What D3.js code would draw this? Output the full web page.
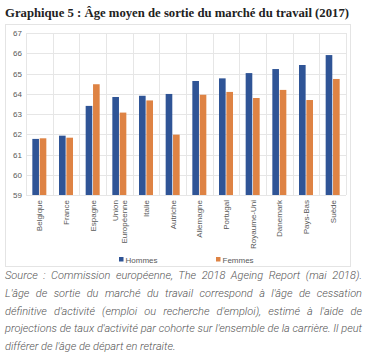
<!DOCTYPE html>
<html>
<head>
<meta charset="utf-8">
<script src="https://cdn.jsdelivr.net/npm/d3@7"></script>
<style>
  body { margin: 0; background: #fff; }
  #wrap { position: relative; width: 366px; height: 353px; overflow: hidden; }
  #source {
    position: absolute; left: 5px; top: 267px; width: 357px;
    font-family: Roboto, "Liberation Sans", sans-serif; font-style: italic; font-weight: 300;
    font-size: 11px; line-height: 17.8px; color: #555; text-align: justify;
  }
</style>
</head>
<body>
<div id="wrap">
  <div id="chart"></div>
  <div id="source">Source : Commission européenne, The 2018 Ageing Report (mai 2018). L'âge de sortie du marché du travail correspond à l'âge de cessation définitive d'activité (emploi ou recherche d'emploi), estimé à l'aide de projections de taux d'activité par cohorte sur l'ensemble de la carrière. Il peut différer de l'âge de départ en retraite.</div>
</div>
<script>
const countries = ["Belgique", "France", "Espagne", "Union Européenne", "Italie", "Autriche",
  "Allemagne", "Portugal", "Royaume-Uni", "Danemark", "Pays-Bas", "Suède"];
const hommes = [61.77, 61.93, 63.4, 63.84, 63.9, 63.99, 64.63, 64.76, 65.02, 65.22, 65.42, 65.91];
const femmes = [61.8, 61.83, 64.47, 63.07, 63.67, 61.98, 63.95, 64.09, 63.79, 64.19, 63.69, 64.73];
const seriesNames = ["Hommes", "Femmes"];
const yTicks = [59, 60, 61, 62, 63, 64, 65, 66, 67];

const colors = { Hommes: "#2f5496", Femmes: "#de8344" };
const W = 366, H = 353;
const plot = { left: 26, right: 346, top: 33, bottom: 195 };

const svg = d3.select("#chart").append("svg")
  .attr("width", W).attr("height", H)
  .style("position", "absolute").style("left", 0).style("top", 0);

svg.append("text")
  .attr("x", 5).attr("y", 17)
  .attr("textLength", 344).attr("lengthAdjust", "spacingAndGlyphs")
  .style("font-family", "'Liberation Serif', serif").style("font-weight", "bold")
  .style("font-size", "12.5px").style("fill", "#222")
  .text("Graphique 5 : Âge moyen de sortie du marché du travail (2017)");

// chart frame
svg.append("rect")
  .attr("x", 5.5).attr("y", 24.5).attr("width", 345).attr("height", 242)
  .attr("fill", "none").attr("stroke", "#e4e4e4");

const x = d3.scaleBand().domain(countries).range([plot.left, plot.right]);
const y = d3.scaleLinear().domain([59, 67]).range([plot.bottom, plot.top]);
const xs = d3.scaleBand().domain(seriesNames).range([0, 14]).paddingInner(0.1);

const grid = svg.append("g").attr("stroke", "#e6e6e6").attr("stroke-width", 1);
grid.selectAll("line.h").data(yTicks).enter().append("line")
  .attr("x1", plot.left).attr("x2", plot.right)
  .attr("y1", d => Math.round(y(d)) + 0.5).attr("y2", d => Math.round(y(d)) + 0.5);
grid.selectAll("line.v").data(countries.concat(["end"])).enter().append("line")
  .attr("x1", (d, i) => Math.round(plot.left + i * x.bandwidth()) + 0.5)
  .attr("x2", (d, i) => Math.round(plot.left + i * x.bandwidth()) + 0.5)
  .attr("y1", plot.top).attr("y2", plot.bottom);

const yAxis = svg.append("g")
  .attr("transform", `translate(${plot.left - 4},0)`)
  .call(d3.axisLeft(y).tickValues(yTicks).tickSize(0).tickPadding(0));
yAxis.select(".domain").remove();
yAxis.selectAll("text")
  .style("font-family", "'Liberation Sans', Arial, sans-serif")
  .style("font-size", "8px").style("fill", "#595959");

const rows = countries.map((c, i) => ({ c, Hommes: hommes[i], Femmes: femmes[i] }));
const groups = svg.selectAll("g.cat").data(rows).enter().append("g")
  .attr("transform", d => `translate(${x(d.c) + x.bandwidth() / 2 - 7},0)`);
groups.selectAll("rect").data(d => seriesNames.map(s => ({ s, v: d[s] }))).enter().append("rect")
  .attr("x", d => xs(d.s))
  .attr("width", xs.bandwidth())
  .attr("y", d => y(d.v))
  .attr("height", d => y(59) - y(d.v))
  .attr("fill", d => colors[d.s]);

// category labels, rotated
const lab = svg.selectAll("g.lab").data(countries).enter().append("g")
  .attr("transform", d => `translate(${x(d) + x.bandwidth() / 2},200) rotate(-90)`);
lab.each(function (d) {
  const lines = d === "Union Européenne" ? ["Union", "Européenne"] : [d];
  const t = d3.select(this).append("text")
    .attr("text-anchor", "end")
    .style("font-family", "'Liberation Sans', Arial, sans-serif")
    .style("font-size", "8px").style("fill", "#595959");
  lines.forEach((l, j) => {
    t.append("tspan").attr("x", 0)
      .attr("y", (j - (lines.length - 1) / 2) * 9.5 + 3)
      .text(l);
  });
});

// legend
const legX = [119, 216];
const leg = svg.selectAll("g.leg").data(seriesNames).enter().append("g")
  .attr("transform", (d, i) => `translate(${legX[i]},260)`);
leg.append("rect").attr("x", 0).attr("y", -3).attr("width", 4.5).attr("height", 4.5)
  .attr("fill", d => colors[d]);
leg.append("text").attr("x", 6.5).attr("y", 2.5)
  .style("font-family", "'Liberation Sans', Arial, sans-serif")
  .style("font-size", "8px").style("fill", "#595959")
  .text(d => d);
</script>
</body>
</html>
